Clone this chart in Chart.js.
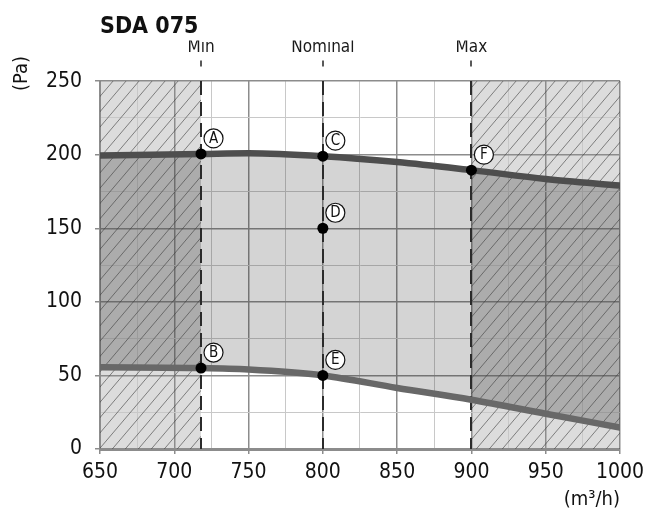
<!DOCTYPE html>
<html>
<head>
<meta charset="utf-8">
<script src="https://cdn.jsdelivr.net/npm/chart.js@4/dist/chart.umd.min.js"></script>
<style>
  html, body { margin: 0; padding: 0; background: #fff; }
  #wrap { width: 650px; height: 512px; }
</style>
</head>
<body>
<div id="wrap"><canvas id="c" width="650" height="512"></canvas></div>
<script>
// ---- data ----
const curveFlow = [650, 718, 750, 800, 850, 900, 950, 1000];
const upperPressure = [199.5, 200.5, 201, 199, 195, 189.5, 183.5, 179];
const lowerPressure = [55.5, 55, 54, 50, 41.5, 33.5, 24, 14.5];

const pointLabels = ['A', 'B', 'C', 'D', 'E', 'F'];
const pointFlow = [718, 718, 800, 800, 800, 900];
const pointPressure = [200.5, 55, 199, 150, 50, 189.5];

const markerFlow = [718, 800, 900];
const markerLabels = ['Min', 'Nominal', 'Max'];

const zoneStart = [650, 900];
const zoneEnd = [718, 1000];

const xMin = 650, xMax = 1000, yMin = 0, yMax = 250;

const FONT = "'Liberation Sans Narrow', 'DejaVu Sans Condensed', 'Liberation Sans', sans-serif";
Chart.defaults.font.family = FONT;
Chart.defaults.color = '#111';

const upperData = curveFlow.map((f, i) => ({ x: f, y: upperPressure[i] }));
const lowerData = curveFlow.map((f, i) => ({ x: f, y: lowerPressure[i] }));
const pointData = pointFlow.map((f, i) => ({ x: f, y: pointPressure[i] }));

function fillGradient(c) {
  const ch = c.chart;
  const dark = 'rgba(0,0,0,0.22)', light = 'rgba(0,0,0,0.17)';
  if (!ch.chartArea) return light;
  const xs = ch.scales.x;
  const p0 = xs.getPixelForValue(xMin), p1 = xs.getPixelForValue(xMax);
  const g = ch.ctx.createLinearGradient(p0, 0, p1, 0);
  const f = v => (v - xMin) / (xMax - xMin);
  g.addColorStop(0, dark);
  g.addColorStop(f(zoneEnd[0]), dark);
  g.addColorStop(f(zoneEnd[0]), light);
  g.addColorStop(f(zoneStart[1]), light);
  g.addColorStop(f(zoneStart[1]), dark);
  g.addColorStop(1, dark);
  return g;
}

const decor = {
  id: 'decor',
  beforeDraw(chart) {
    const { ctx, scales: { x, y } } = chart;
    ctx.save();
    ctx.fillStyle = '#dcdcdc';
    const yt = y.getPixelForValue(yMax), yb = y.getPixelForValue(yMin);
    zoneStart.forEach((s, i) => {
      const x0 = x.getPixelForValue(s), x1 = x.getPixelForValue(zoneEnd[i]);
      ctx.fillRect(x0, yt, x1 - x0, yb - yt);
    });
    ctx.restore();
  },
  beforeDatasetsDraw(chart) {
    const { ctx, chartArea: a, scales: { x, y } } = chart;
    const yt = y.getPixelForValue(yMax), yb = y.getPixelForValue(yMin);
    // hatching
    zoneStart.forEach((s, i) => {
      const x0 = x.getPixelForValue(s), x1 = x.getPixelForValue(zoneEnd[i]);
      ctx.save();
      ctx.beginPath();
      ctx.rect(x0, yt, x1 - x0, yb - yt);
      ctx.clip();
      ctx.strokeStyle = 'rgba(60,60,60,0.75)';
      ctx.lineWidth = 0.8;
      const h = yb - yt, slope = 0.85, step = 13;
      ctx.beginPath();
      for (let sx = a.left - h * slope - step; sx < a.right + step; sx += step) {
        ctx.moveTo(sx, yb);
        ctx.lineTo(sx + h * slope, yt);
      }
      ctx.stroke();
      ctx.restore();
    });
    // dashed marker lines
    ctx.save();
    ctx.strokeStyle = '#2b2b2b';
    ctx.lineWidth = 2;
    ctx.setLineDash([14, 7]);
    markerFlow.forEach(f => {
      const px = Math.round(x.getPixelForValue(f));
      ctx.beginPath();
      ctx.moveTo(px, yt);
      ctx.lineTo(px, yb);
      ctx.stroke();
    });
    ctx.setLineDash([]);
    ctx.lineWidth = 1.5;
    ctx.strokeStyle = '#222';
    markerFlow.forEach(f => {
      const px = Math.round(x.getPixelForValue(f));
      ctx.beginPath();
      ctx.moveTo(px, a.top - 20.5);
      ctx.lineTo(px, a.top - 14.5);
      ctx.stroke();
    });
    ctx.restore();
  },
  afterDatasetsDraw(chart) {
    const { ctx, scales: { x, y } } = chart;
    ctx.save();
    pointLabels.forEach((lab, i) => {
      const px = x.getPixelForValue(pointFlow[i]) + 12.5;
      const py = y.getPixelForValue(pointPressure[i]) - 15.5;
      ctx.beginPath();
      ctx.arc(px, py, 9.5, 0, Math.PI * 2);
      ctx.fillStyle = '#fff';
      ctx.fill();
      ctx.lineWidth = 1.2;
      ctx.strokeStyle = '#111';
      ctx.stroke();
      ctx.fillStyle = '#111';
      ctx.font = '15px ' + FONT;
      ctx.textAlign = 'center';
      ctx.textBaseline = 'middle';
      ctx.fillText(lab, px, py + 0.5);
    });
    ctx.restore();
  },
  afterDraw(chart) {
    const { ctx } = chart;
    ctx.save();
    ctx.translate(22, 73.5);
    ctx.rotate(-Math.PI / 2);
    ctx.font = '20px ' + FONT;
    ctx.fillStyle = '#111';
    ctx.textAlign = 'center';
    ctx.textBaseline = 'middle';
    ctx.fillText('(Pa)', 0, 0);
    ctx.restore();
  }
};

const isMajor = v => Math.abs(v % 50) < 1e-6;

new Chart(document.getElementById('c'), {
  type: 'line',
  data: {
    datasets: [
      {
        label: 'upper',
        data: upperData,
        borderColor: '#4e4e4e',
        borderWidth: 6.5,
        borderCapStyle: 'round',
        pointRadius: 0,
        cubicInterpolationMode: 'monotone',
        fill: '+1',
        backgroundColor: fillGradient,
        order: 1
      },
      {
        label: 'lower',
        data: lowerData,
        borderColor: '#686868',
        borderWidth: 6.5,
        borderCapStyle: 'round',
        pointRadius: 0,
        cubicInterpolationMode: 'monotone',
        fill: false,
        order: 2
      },
      {
        type: 'scatter',
        label: 'points',
        data: pointData,
        showLine: false,
        pointRadius: 5.5,
        pointHoverRadius: 5.5,
        pointBackgroundColor: '#000',
        pointBorderWidth: 0,
        order: 0
      }
    ]
  },
  options: {
    responsive: false,
    animation: false,
    devicePixelRatio: 1,
    layout: { padding: { left: 0, right: 28, top: 0, bottom: 0 } },
    plugins: {
      legend: { display: false },
      tooltip: { enabled: false },
      filler: { drawTime: 'beforeDatasetsDraw', propagate: false },
      title: {
        display: true,
        text: 'SDA 075',
        align: 'start',
        fullSize: false,
        color: '#111',
        font: { size: 23, weight: 'bold', family: FONT },
        padding: { top: 13, bottom: 0 }
      }
    },
    scales: {
      x: {
        type: 'linear',
        position: 'bottom',
        min: xMin, max: xMax,
        afterFit: s => { s.height = 63; },
        ticks: {
          stepSize: 25,
          autoSkip: false,
          maxRotation: 0,
          padding: 6,
          font: { size: 21 },
          color: '#111',
          callback: v => isMajor(v) ? String(v) : ''
        },
        grid: {
          color: c => isMajor(c.tick.value) ? '#8c8c8c' : '#c8c8c8',
          lineWidth: c => isMajor(c.tick.value) ? 1.5 : 1,
          tickColor: c => isMajor(c.tick.value) ? '#8c8c8c' : 'rgba(0,0,0,0)',
          tickLength: 5
        },
        border: { color: '#8c8c8c', width: 3 },
        title: {
          display: true,
          text: '(m³/h)',
          align: 'end',
          color: '#111',
          font: { size: 20 },
          padding: { top: 0, bottom: 0 }
        }
      },
      xTop: {
        type: 'linear',
        position: 'top',
        min: xMin, max: xMax,
        afterFit: s => { s.height = 40.5; },
        afterBuildTicks: s => { s.ticks = markerFlow.map(v => ({ value: v })); },
        ticks: {
          autoSkip: false,
          maxRotation: 0,
          padding: 23,
          font: { size: 17 },
          color: '#1a1a1a',
          callback: v => markerLabels[markerFlow.indexOf(v)] || ''
        },
        grid: { display: false, drawTicks: false, tickLength: 0 },
        border: { display: false }
      },
      y: {
        min: yMin, max: yMax,
        afterFit: s => { s.width = 100; },
        ticks: {
          stepSize: 25,
          autoSkip: false,
          padding: 13,
          font: { size: 21 },
          color: '#111',
          callback: v => isMajor(v) ? String(v) : ''
        },
        grid: {
          color: c => isMajor(c.tick.value) ? '#8c8c8c' : '#c8c8c8',
          lineWidth: c => isMajor(c.tick.value) ? 1.5 : 1,
          tickColor: c => isMajor(c.tick.value) ? '#8c8c8c' : 'rgba(0,0,0,0)',
          tickLength: 5
        },
        border: { color: '#8c8c8c', width: 2 }
      }
    }
  },
  plugins: [decor]
});
</script>
</body>
</html>
